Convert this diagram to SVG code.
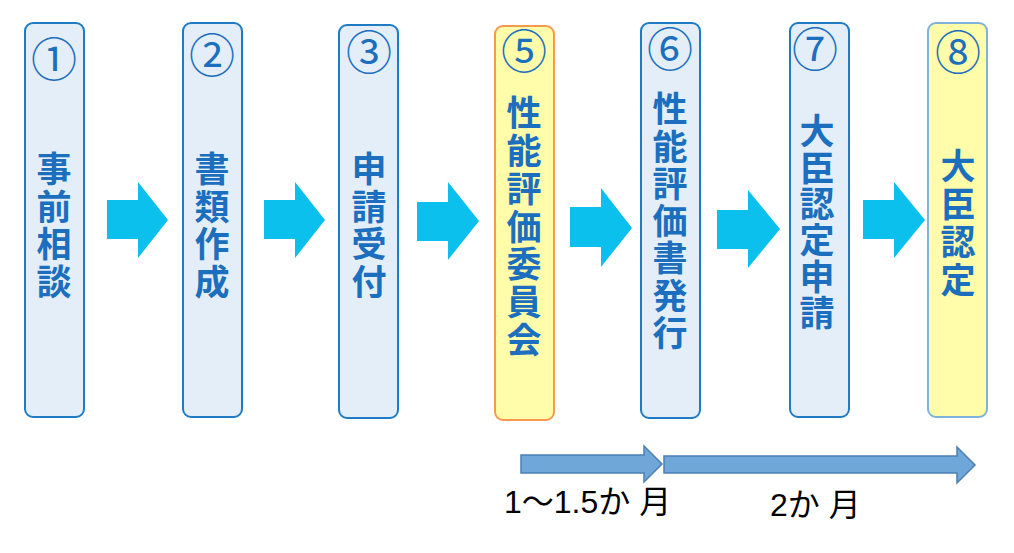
<svg xmlns="http://www.w3.org/2000/svg" width="1014" height="553" viewBox="0 0 1014 553">
<style>
.box{fill:#E3EEF8;stroke:#1E7BC4;stroke-width:2}
.hl{fill:#FFFCAA;stroke:#F59A4E;stroke-width:2}
.hl2{fill:#FFFCAA;stroke:#7FB2DC;stroke-width:2}
.num{font-family:"Noto Sans CJK JP",sans-serif;font-size:46px;fill:#1B6FBE;text-anchor:middle}
.lbl{font-family:"Noto Sans CJK JP",sans-serif;font-size:35px;font-weight:bold;fill:#1B6FBE;writing-mode:vertical-rl}
.step{fill:#0CC0EE}
.tl{fill:#6FA8D8;stroke:#4A7FB5;stroke-width:1.5}
.dur{font-family:"Liberation Sans","Noto Sans CJK JP",sans-serif;font-size:32px;fill:#000}
</style>
<rect width="1014" height="553" fill="#fff"/>
<g id="connectors">
<polygon class="step" points="107,200 138,200 138,182 168,220 138,258 138,239 107,239"/>
<polygon class="step" points="264,200 295,200 295,182 325,220 295,258 295,239 264,239"/>
<polygon class="step" points="417,202 448,202 448,182 479,221 448,260 448,241 417,241"/>
<polygon class="step" points="570,207 601,207 601,188 632,228 601,267 601,247 570,247"/>
<polygon class="step" points="717,210 748,210 748,190 780,229 748,268 748,249 717,249"/>
<polygon class="step" points="863,200 894,200 894,182 925,220 894,258 894,239 863,239"/>
<polygon class="tl" points="521,455 644,455 644,446 662,464 644,482 644,473 521,473"/>
<polygon class="tl" points="664,456 957,456 957,447 975,465 957,483 957,473 664,473"/>
</g>
<g id="n1">
<rect class="box" x="25" y="23" width="59" height="394" rx="8"/>
<text class="num" x="54" y="76">①</text>
<text class="lbl" x="54" y="151.5" letter-spacing="2.5">事前相談</text>
</g>
<g id="n2">
<rect class="box" x="183" y="23" width="59" height="394" rx="8"/>
<text class="num" x="212" y="72">②</text>
<text class="lbl" x="212" y="151.5" letter-spacing="2.5">書類作成</text>
</g>
<g id="n3">
<rect class="box" x="339" y="25" width="59" height="393" rx="8"/>
<text class="num" x="369" y="69">③</text>
<text class="lbl" x="369" y="151.5" letter-spacing="2.5">申請受付</text>
</g>
<g id="n5">
<rect class="hl" x="495" y="26" width="59" height="394" rx="8"/>
<text class="num" x="524" y="68">⑤</text>
<text class="lbl" x="524" y="95.5" letter-spacing="2.8">性能評価委員会</text>
</g>
<g id="n6">
<rect class="box" x="641" y="23" width="59" height="395" rx="8"/>
<text class="num" x="670" y="66">⑥</text>
<text class="lbl" x="670" y="91.5" letter-spacing="2.3">性能評価書発行</text>
</g>
<g id="n7">
<rect class="box" x="790" y="23" width="59" height="394" rx="8"/>
<text class="num" x="815" y="66">⑦</text>
<text class="lbl" x="817" y="113.5" letter-spacing="1.4">大臣認定申請</text>
</g>
<g id="n8">
<rect class="hl2" x="928" y="23" width="59" height="394" rx="8"/>
<text class="num" x="958" y="69">⑧</text>
<text class="lbl" x="958" y="148.5" letter-spacing="3">大臣認定</text>
</g>
<text class="dur" x="504" y="513">1〜1.5か 月</text>
<text class="dur" x="770" y="516">2か 月</text>
</svg>
